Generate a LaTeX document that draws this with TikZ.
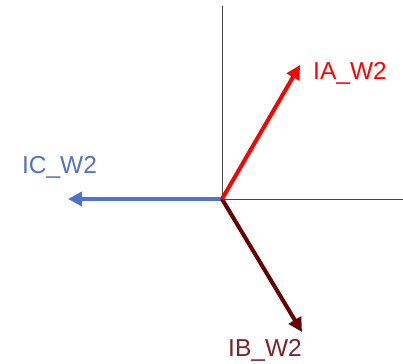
\documentclass[tikz,border=0pt]{standalone}
\usepackage{fontspec}
\setmainfont{Liberation Sans}
\usepackage{xcolor}
\usetikzlibrary{arrows.meta,positioning}
\definecolor{phasea}{HTML}{FF0000}
\definecolor{phaseb}{HTML}{650000}
\definecolor{phasebtxt}{HTML}{7A2328}
\definecolor{phasec}{HTML}{5072C8}
\definecolor{axisgray}{HTML}{444444}

\begin{document}
\begin{tikzpicture}[x=1pt, y=-1pt,
  axis/.style={draw=axisgray, line width=1pt},
  phasor/.style={line width=4pt, -{Triangle[length=14pt, width=14pt]}},
  lbl/.style={font=\fontsize{24.5}{28}\selectfont, inner sep=0pt}]
\useasboundingbox (0,0) rectangle (403,363);
\coordinate (o) at (222,199);
\coordinate (ytop) at (222,6);
\coordinate (xend) at (403,199);
\coordinate (a) at (300,65);
\coordinate (b) at (302,332);
\coordinate (c) at (68,199);
\draw[axis] (ytop) -- (o) -- (xend);
\draw[phasor, phasec] (o) -- (c);
\draw[phasor, phaseb] (o) -- (b);
\draw[phasor, phasea] (o) -- (a);
\node[lbl, text=phasea] (la) at (350,73) {IA\_W2};
\node[lbl, text=phasec] (lc) at (59.5,167) {IC\_W2};
\node[lbl, text=phasebtxt] (lb) at (265,350) {IB\_W2};
\end{tikzpicture}
\end{document}
